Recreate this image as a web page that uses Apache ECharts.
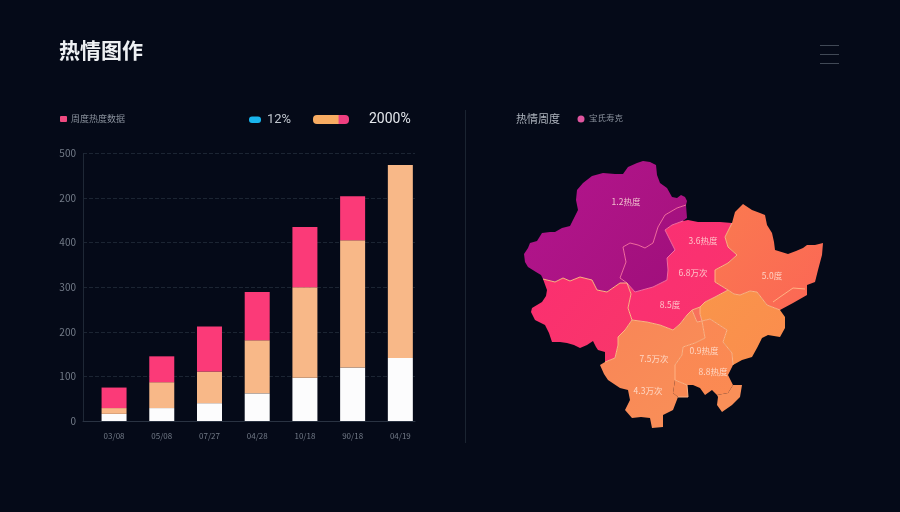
<!DOCTYPE html>
<html lang="zh">
<head>
<meta charset="UTF-8">
<title>热情图作</title>
<style>
  html, body { margin: 0; padding: 0; background: #050a18; }
  #main { width: 900px; height: 512px; }
</style>
</head>
<body>
<div id="main"></div>
<script src="https://cdn.jsdelivr.net/npm/echarts@6/dist/echarts.min.js"></script>
<script>
var titleText = '热情图作';
var leftLegendText = '周度热度数据';
var shareLow = '12%';
var shareHigh = '2000%';
var mapTitleText = '热情周度';
var mapLegendText = '宝氏寿克';

// bars
var categories = ['03/08', '05/08', '07/27', '04/28', '10/18', '90/18', '04/19'];
var whiteValues = [16, 29, 40, 62, 97, 120, 141];
var orangeValues = [13, 58, 71, 119, 203, 285, 433];
var pinkValues = [46, 58, 101, 108, 135, 99, 0];
var yTickLabels = ['0', '100', '200', '300', '400', '200', '500'];

// map outlines (x, y down)
var outerNorth = [[543,279],[541,275],[536,272],[528,267],[525,262],[524,254],[528,248],[530,243],[537,241],[542,233],[550,232],[555,232],[562,228],[570,226],[573,220],[578,210],[576,200],[577,190],[583,183],[592,176],[603,173],[615,174],[623,174],[628,167],[637,163],[643,161],[650,162],[656,165],[657,175],[660,183],[667,188],[672,197],[677,198],[681,195],[685,197],[687,201],[686,205]];
var tipEast = [[686,205],[687,218],[683,221]];
var lineAB = [[627,283],[620,278],[626,262],[623,247],[630,243],[638,245],[645,248],[653,243],[658,227],[665,215],[677,208],[686,205]];
var lineBC = [[683,221],[672,225],[665,230],[670,240],[675,250],[667,258],[668,270],[667,280],[653,287],[635,292],[627,283]];
var lineAW = [[543,279],[555,282],[563,278],[570,281],[580,277],[592,280],[597,290],[607,292],[620,283],[627,283]];
var outerWest = [[543,279],[547,290],[546,296],[542,302],[532,308],[531,312],[535,320],[545,325],[549,333],[552,342],[560,342],[567,343],[574,345],[580,348],[587,345],[593,341],[596,347],[598,350],[605,352],[605,362]];
var lineWS = [[605,362],[615,358],[618,345],[618,337],[625,330],[632,320]];
var lineWC = [[627,283],[631,294],[628,308],[632,320]];
var lineCS = [[632,320],[647,322],[660,325],[673,330],[680,324],[687,315],[692,310]];
var lineCE = [[692,310],[700,307],[705,302],[715,297],[728,290]];
var outerCTop = [[683,221],[688,220],[698,222],[708,222],[720,222],[732,223]];
var lineCD = [[732,223],[725,237],[728,247],[737,255],[728,263],[715,270],[715,282],[728,290]];
var outerEastD = [[732,223],[735,212],[743,204],[752,210],[760,213],[765,215],[767,225],[772,233],[774,242],[775,250],[788,254],[796,251],[803,248],[807,245],[815,245],[823,243],[822,255],[818,270],[815,282],[807,285],[807,295],[793,303],[780,310]];
var lineDE = [[728,290],[734,294],[740,295],[750,291],[757,292],[767,305],[780,310]];
var outerE = [[780,310],[785,317],[785,328],[780,337],[768,335],[762,338],[757,348],[752,357],[742,360],[733,365]];
var lineES2 = [[733,365],[732,353],[723,342],[727,330],[710,319],[702,321]];
var lineES1 = [[702,321],[700,314],[700,307]];
var lineS1S2 = [[702,321],[705,338],[695,343],[683,347],[682,355],[675,365],[675,380]];
var notchS1 = [[692,310],[697,322],[702,321]];
var outerS1 = [[605,362],[600,365],[604,374],[608,380],[620,388],[628,390],[630,400],[625,410],[632,418],[641,417],[650,418],[652,428],[663,427],[663,415],[673,410],[678,397],[673,393],[675,380]];
var lineS4 = [[675,380],[687,385],[688,397],[678,397]];
var coastS2 = [[687,385],[693,385],[700,388],[705,395],[712,390],[717,395],[728,393],[733,385],[728,375],[733,365]];
var outerS5 = [[717,395],[718,397],[717,405],[722,412],[732,405],[740,397],[742,385],[733,385]];
var lineD2 = [[773,302],[780,297],[793,288],[805,289]];
var labelNames = ['1.2热度', '3.6热度', '6.8万次', '5.0度', '8.5度', '7.5万次', '0.9热度', '8.8热度', '4.3万次'];
var labelPoints = [[626,202],[703,241],[693,273],[772,276],[670,305],[654,359],[704,351],[713,372],[648,391]];

function rev(a) { return a.slice().reverse(); }
function ring() { return [].concat.apply([], arguments); }

var regionRings = {
  A: ring(outerNorth, rev(lineAB), rev(lineAW)),
  B: ring(lineAB, tipEast, lineBC),
  W: ring(outerWest, lineWS, rev(lineWC), rev(lineAW)),
  C: ring(lineWC, lineCS, lineCE, rev(lineCD), rev(outerCTop), lineBC),
  D: ring(outerEastD, rev(lineDE), rev(lineCD)),
  E: ring(lineDE, outerE, lineES2, lineES1, lineCE.slice(1)),
  S1: ring(lineCS, notchS1, lineS1S2, rev(outerS1), lineWS),
  S2: ring(lineS1S2, lineS4.slice(0, 2), coastS2, lineES2),
  S4: ring(lineS4, [[673,393],[675,380]]),
  S5: ring(outerS5, [[728,393],[717,395]]),
  S6: ring(lineCE.slice(0, 2), lineES1.slice().reverse(), [[697,322],[692,310]])
};
var regionColors = {
  A: ['#b3148e', '#a5137c'],
  B: ['#a81282', '#a00f7c'],
  W: ['#fb2f70', '#f8366a'],
  C: ['#fb2f74', '#f9336c'],
  D: ['#fa7a50', '#fb6655'],
  E: ['#f9954a', '#fb8c4e'],
  S1: ['#f98557', '#f99058'],
  S2: ['#fa8855', '#fb8a52'],
  S4: ['#f98a55', '#f98a55'],
  S5: ['#fa8f58', '#fa8f58'],
  S6: ['#f8705c', '#f8705c']
};
var pinkishLines = [lineAB, lineBC];
var warmLines = [lineAW, lineWC, lineWS, lineCS, lineCE, lineCD, lineDE, lineES2, lineES1, lineS1S2, lineS4, lineD2, notchS1];

function toGeo(p) { return [p[0], -p[1]]; }

var features = Object.keys(regionRings).map(function (name) {
  return {
    type: 'Feature',
    properties: { name: name },
    geometry: { type: 'Polygon', coordinates: [regionRings[name].map(toGeo)] }
  };
});
echarts.registerMap('heat', { type: 'FeatureCollection', features: features });

var geoRegions = Object.keys(regionColors).map(function (name) {
  return {
    name: name,
    itemStyle: {
      areaColor: new echarts.graphic.LinearGradient(0, 0, 1, 1, [
        { offset: 0, color: regionColors[name][0] },
        { offset: 1, color: regionColors[name][1] }
      ]),
      borderWidth: 0
    }
  };
});

function lineData(list) {
  return list.map(function (l) { return { coords: l.map(toGeo) }; });
}

var grey = '#737b88';
var labelFont = '"Noto Sans CJK SC", "Noto Sans", sans-serif';

var option = {
  backgroundColor: '#050a18',
  animation: false,
  title: {
    text: titleText,
    left: 54,
    top: 35,
    textStyle: { color: '#eef0f3', fontSize: 21, fontWeight: 'bold', fontFamily: labelFont }
  },
  // grid 0 carries axis and split lines, grid 1 the bars (bars sit a bit right of the axis)
  grid: [
    { left: 83, width: 332, top: 153.4, height: 267.6 },
    { left: 90.2, width: 334, top: 153.4, height: 267.6 }
  ],
  xAxis: [
    {
      gridIndex: 0, type: 'category', data: [''],
      axisLine: { lineStyle: { color: '#2a3342' } },
      axisTick: { show: false }, axisLabel: { show: false }
    },
    {
      gridIndex: 1, type: 'category', data: categories,
      axisLine: { show: false }, axisTick: { show: false },
      axisLabel: { color: grey, fontSize: 8, margin: 11, fontFamily: labelFont }
    }
  ],
  yAxis: [
    {
      gridIndex: 0, type: 'value', min: 0, max: 600, interval: 100,
      axisLine: { show: true, lineStyle: { color: '#1f2836' } },
      axisTick: { show: false },
      axisLabel: {
        color: grey, fontSize: 10, margin: 7, fontFamily: labelFont,
        formatter: function (v) { return yTickLabels[v / 100]; }
      },
      splitLine: { lineStyle: { color: '#1c2533', type: 'dashed' } }
    },
    { gridIndex: 1, type: 'value', min: 0, max: 600, interval: 100, show: false }
  ],
  geo: {
    map: 'heat',
    silent: true,
    roam: false,
    aspectScale: 1,
    layoutCenter: [673.5, 294.5],
    layoutSize: 299,
    itemStyle: { borderWidth: 0 },
    regions: geoRegions,
    z: 2
  },
  series: [
    { name: '白', type: 'bar', stack: 'a', xAxisIndex: 1, yAxisIndex: 1, barWidth: 25, data: whiteValues, itemStyle: { color: '#fcfcfd' } },
    { name: '橙', type: 'bar', stack: 'a', xAxisIndex: 1, yAxisIndex: 1, barWidth: 25, data: orangeValues, itemStyle: { color: '#f8b888' } },
    { name: '粉', type: 'bar', stack: 'a', xAxisIndex: 1, yAxisIndex: 1, barWidth: 25, data: pinkValues, itemStyle: { color: '#fb3a78' } },
    {
      type: 'lines', coordinateSystem: 'geo', polyline: true, silent: true, z: 3,
      data: lineData(pinkishLines),
      lineStyle: { color: '#f56aa0', width: 1, opacity: 1 }
    },
    {
      type: 'lines', coordinateSystem: 'geo', polyline: true, silent: true, z: 3,
      data: lineData(warmLines),
      lineStyle: { color: '#ffb283', width: 1, opacity: 1 }
    },
    {
      type: 'scatter', coordinateSystem: 'geo', symbolSize: 0, silent: true, z: 4,
      data: labelNames.map(function (n, i) { return { name: n, value: toGeo(labelPoints[i]) }; }),
      label: {
        show: true, position: 'inside', formatter: '{b}',
        color: '#ffeadf', fontSize: 8.5, fontFamily: labelFont
      }
    }
  ],
  graphic: [
    // left legend row
    { type: 'rect', shape: { x: 60, y: 116, width: 7, height: 6, r: 1 }, style: { fill: '#ef4a80' } },
    { type: 'text', x: 71, y: 114, style: { text: leftLegendText, fill: '#8a919c', fontSize: 9, fontFamily: labelFont } },
    { type: 'rect', shape: { x: 249, y: 116.5, width: 12, height: 6.5, r: 3 }, style: { fill: '#19b5ee' } },
    { type: 'text', x: 267, y: 113, style: { text: shareLow, fill: '#c0c6ce', fontSize: 13, fontFamily: 'Roboto' } },
    {
      type: 'rect', shape: { x: 313, y: 115, width: 36, height: 9, r: 4 },
      style: {
        fill: new echarts.graphic.LinearGradient(0, 0, 1, 0, [
          { offset: 0, color: '#f8ac62' }, { offset: 0.7, color: '#f8ac62' },
          { offset: 0.72, color: '#ef3f80' }, { offset: 1, color: '#ef3f80' }
        ])
      }
    },
    { type: 'text', x: 369, y: 112, style: { text: shareHigh, fill: '#e4e7ec', fontSize: 14, fontFamily: 'Roboto' } },
    // divider
    { type: 'rect', shape: { x: 465, y: 110, width: 1, height: 333 }, style: { fill: '#1b2431' } },
    // right legend row
    { type: 'text', x: 516, y: 113, style: { text: mapTitleText, fill: '#aeb4bd', fontSize: 11, fontFamily: labelFont } },
    { type: 'circle', shape: { cx: 581, cy: 119, r: 3.5 }, style: { fill: '#e0559f' } },
    { type: 'text', x: 589, y: 114, style: { text: mapLegendText, fill: '#8a919c', fontSize: 8.5, fontFamily: labelFont } },
    // menu icon
    { type: 'rect', shape: { x: 820, y: 45, width: 19, height: 1 }, style: { fill: '#414956' } },
    { type: 'rect', shape: { x: 820, y: 54, width: 19, height: 1 }, style: { fill: '#414956' } },
    { type: 'rect', shape: { x: 820, y: 63, width: 19, height: 1 }, style: { fill: '#414956' } }
  ]
};

var chart = echarts.init(document.getElementById('main'));
chart.setOption(option);
</script>
</body>
</html>
